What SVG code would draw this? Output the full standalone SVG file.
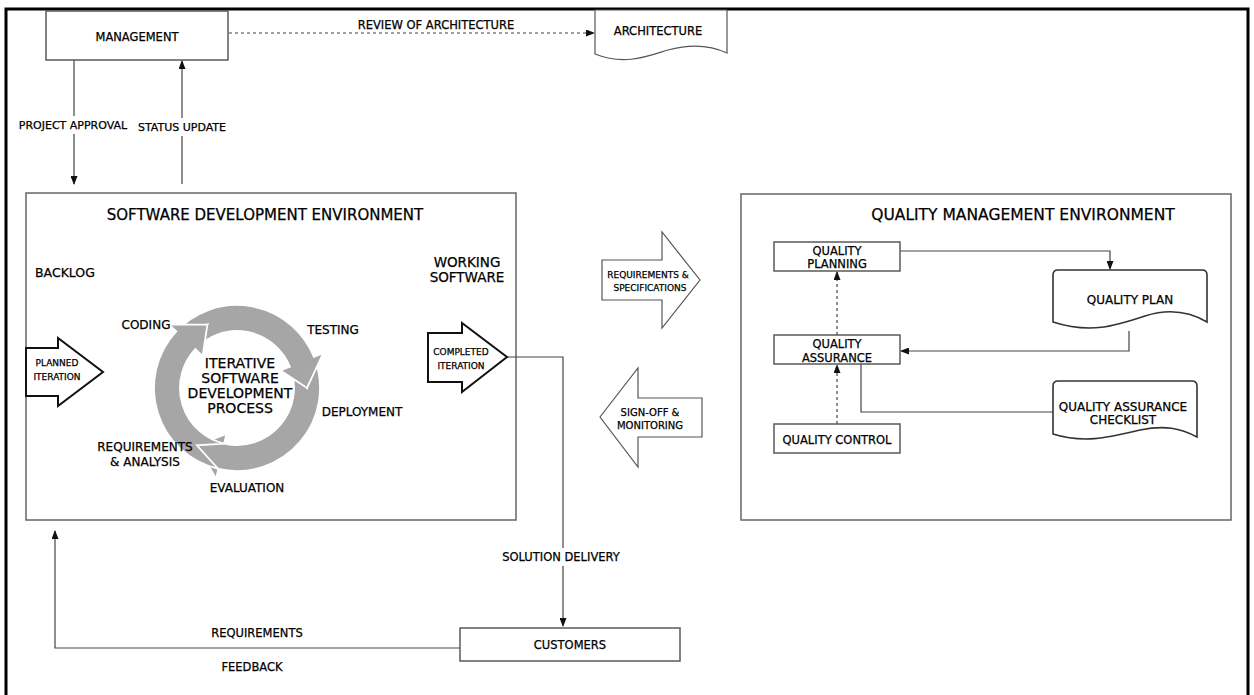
<svg xmlns="http://www.w3.org/2000/svg" width="1254" height="695" viewBox="0 0 1254 695">
<defs>
<style>
text{font-family:"DejaVu Sans","Liberation Sans",sans-serif;fill:#000;stroke:#000;stroke-width:0.25;text-anchor:middle;dominant-baseline:central}
.box{fill:#fff;stroke:#5a5a5a;stroke-width:1.5}
.env{fill:#fff;stroke:#666;stroke-width:1.5}
.ln{fill:none;stroke:#444;stroke-width:1.2}
.dash{fill:none;stroke:#444;stroke-width:1.2;stroke-dasharray:3 3}
.doc{fill:#fff;stroke:#333;stroke-width:1.6}
.bigarrow{fill:#fff;stroke:#111;stroke-width:2}
.thinarrow{fill:#fff;stroke:#555;stroke-width:1.2}
.ring{fill:#a6a6a6;stroke:#fff;stroke-width:1.8;stroke-linejoin:miter}
.s{font-size:11px}
.t{font-size:15px}
.m{font-size:12px}
.xs{font-size:9.5px}
</style>
<marker id="ah" markerWidth="9" markerHeight="7" refX="8" refY="3.5" orient="auto" markerUnits="userSpaceOnUse">
<path d="M0,0 L9,3.5 L0,7 Z" fill="#111"/>
</marker>
</defs>
<rect x="0" y="0" width="1254" height="695" fill="#fff"/>
<rect x="6" y="9" width="1242" height="700" fill="none" stroke="#000" stroke-width="3"/>

<g id="sde-env">
<rect class="env" x="26" y="193" width="490" height="327"/>
<text class="t" x="265" y="215">SOFTWARE DEVELOPMENT ENVIRONMENT</text>
<text class="m" x="35" y="272" style="text-anchor:start;font-size:12.5px">BACKLOG</text>
<text x="467" y="262" style="font-size:13.5px">WORKING</text>
<text x="467" y="277" style="font-size:13.5px">SOFTWARE</text>
</g>

<g id="qme-env">
<rect class="env" x="741" y="194" width="490" height="326"/>
<text class="t" x="1023" y="215" style="font-size:15.5px">QUALITY MANAGEMENT ENVIRONMENT</text>
</g>

<g id="connectors">
<line class="ln" x1="74" y1="60" x2="74" y2="184" marker-end="url(#ah)"/>
<line class="ln" x1="182" y1="184" x2="182" y2="61" marker-end="url(#ah)"/>
<line class="dash" x1="229" y1="33" x2="594" y2="33" marker-end="url(#ah)"/>
<polyline class="ln" points="507,357 563,357 563,626" marker-end="url(#ah)"/>
<polyline class="ln" points="460,648 55,648 55,531" marker-end="url(#ah)"/>
<polyline class="ln" points="900,251 1110,251 1110,269" marker-end="url(#ah)"/>
<polyline class="ln" points="1129,331 1129,351 901,351" marker-end="url(#ah)"/>
<polyline class="ln" points="861,364 861,412 1053,412"/>
<line class="dash" x1="837" y1="424" x2="837" y2="365" marker-end="url(#ah)"/>
<line class="dash" x1="837" y1="335" x2="837" y2="272" marker-end="url(#ah)"/>
<rect x="18" y="116" width="112" height="18" fill="#fff"/>
<text class="s" x="73" y="125">PROJECT APPROVAL</text>
<rect x="134" y="118" width="96" height="18" fill="#fff"/>
<text class="s" x="182" y="127">STATUS UPDATE</text>
<text class="s" x="436" y="25" style="font-size:11.5px">REVIEW OF ARCHITECTURE</text>
<rect x="494" y="548" width="134" height="18" fill="#fff"/>
<text class="s" x="561" y="557" style="font-size:11.5px">SOLUTION DELIVERY</text>
<text class="s" x="257" y="633" style="font-size:11.5px">REQUIREMENTS</text>
<text class="s" x="252" y="667" style="font-size:11.5px">FEEDBACK</text>
</g>

<g id="management">
<rect class="box" x="46" y="11" width="182" height="49"/>
<text class="s" x="137" y="37" style="font-size:11.5px">MANAGEMENT</text>
</g>

<g id="architecture">
<path class="doc" style="stroke:#555;stroke-width:1.2" d="M595,10 H727 V53 C710,45 690,44 668,50 C648,56 625,66 595,54 Z"/>
<text class="s" x="658" y="31" style="font-size:11.5px">ARCHITECTURE</text>
</g>

<g id="planned-iteration">
<polygon class="bigarrow" points="26,348 58,348 58,338 103,372 58,406 58,396 26,396"/>
<text class="xs" x="57" y="363" style="font-size:9px">PLANNED</text>
<text class="xs" x="57" y="377" style="font-size:9px">ITERATION</text>
</g>

<g id="cycle">
<path class="ring" d="M313.96,356.91 A83,83 0 0 1 218.32,468.88 L216.07,478.62 L196.85,445.34 L226.42,433.80 L224.17,443.54 A57,57 0 0 0 289.85,366.65 L307,388 Z"/>
<path class="ring" d="M176.29,331.39 A83,83 0 0 1 313.96,356.91 L323.23,353.16 L307,388 L280.58,370.39 L289.85,366.65 A57,57 0 0 0 195.31,349.13 L207.42,324.56 Z"/>
<path class="ring" d="M218.32,468.88 A83,83 0 0 1 176.29,331.39 L168.98,324.57 L207.42,324.56 L202.62,355.95 L195.31,349.13 A57,57 0 0 0 224.17,443.54 L196.85,445.34 Z"/>
<text x="240" y="363" style="font-size:14px">ITERATIVE</text>
<text x="240" y="378" style="font-size:14px">SOFTWARE</text>
<text x="240" y="393" style="font-size:14px">DEVELOPMENT</text>
<text x="240" y="408" style="font-size:14px">PROCESS</text>
<text class="m" x="146" y="325">CODING</text>
<text class="m" x="333" y="330">TESTING</text>
<text class="m" x="362" y="412">DEPLOYMENT</text>
<text class="m" x="145" y="447">REQUIREMENTS</text>
<text class="m" x="145" y="462">&amp; ANALYSIS</text>
<text class="m" x="247" y="488">EVALUATION</text>
</g>

<g id="completed-iteration">
<polygon class="bigarrow" points="428,333 462,333 462,323 507,357 462,392 462,382 428,382"/>
<text class="xs" x="461" y="352" style="font-size:9px">COMPLETED</text>
<text class="xs" x="461" y="366" style="font-size:9px">ITERATION</text>
</g>

<g id="req-spec">
<polygon class="thinarrow" points="602,260 662,260 662,232 700,280 662,328 662,300 602,300"/>
<text class="xs" x="648" y="275" style="font-size:9px">REQUIREMENTS &amp;</text>
<text class="xs" x="650" y="288" style="font-size:9px">SPECIFICATIONS</text>
</g>

<g id="signoff">
<polygon class="thinarrow" points="600,417 638,368 638,398 702,398 702,437 638,437 638,467"/>
<text class="xs" x="650" y="412" style="font-size:10px">SIGN-OFF &amp;</text>
<text class="xs" x="650" y="425" style="font-size:10px">MONITORING</text>
</g>

<g id="quality-planning">
<rect class="box" x="774" y="242" width="126" height="29"/>
<text class="s" x="837" y="251" style="font-size:11.5px">QUALITY</text>
<text class="s" x="837" y="264" style="font-size:11.5px">PLANNING</text>
</g>

<g id="quality-assurance">
<rect class="box" x="774" y="335" width="126" height="29"/>
<text class="s" x="837" y="344" style="font-size:11.5px">QUALITY</text>
<text class="s" x="837" y="358" style="font-size:11.5px">ASSURANCE</text>
</g>

<g id="quality-control">
<rect class="box" x="774" y="424" width="126" height="29"/>
<text class="s" x="837" y="440" style="font-size:11.5px">QUALITY CONTROL</text>
</g>

<g id="quality-plan">
<path class="doc" d="M1053,322 V275 Q1053,270 1058,270 H1202 Q1207,270 1207,275 V322 C1190,312 1170,308 1145,316 C1115,326 1090,334 1053,322 Z"/>
<text class="m" x="1130" y="300">QUALITY PLAN</text>
</g>

<g id="qa-checklist">
<path class="doc" d="M1053,434 V386 Q1053,381 1058,381 H1192 Q1197,381 1197,386 V437 C1180,428 1165,425 1140,430 C1110,437 1085,444 1053,434 Z"/>
<text class="m" x="1123" y="407">QUALITY ASSURANCE</text>
<text class="m" x="1123" y="420">CHECKLIST</text>
</g>

<g id="customers">
<rect class="box" x="460" y="628" width="220" height="33"/>
<text class="s" x="570" y="645" style="font-size:11.5px">CUSTOMERS</text>
</g>
</svg>
